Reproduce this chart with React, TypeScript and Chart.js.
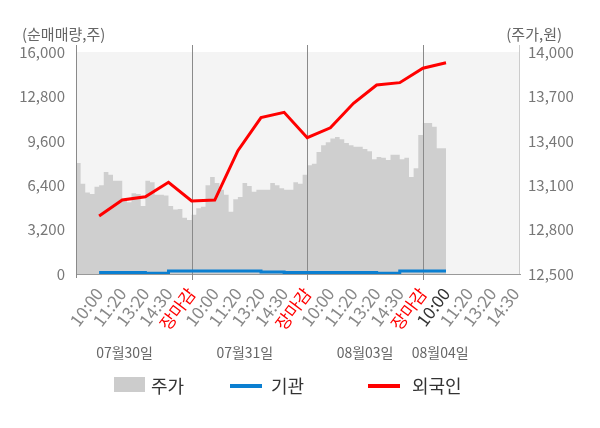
import { useEffect, useRef } from "react";
import { Chart, registerables } from "chart.js";
import type { Plugin } from "chart.js";

Chart.register(...registerables);

// x 축 라벨 (시간대)
const xLabels = [
  "10:00", "11:20", "13:20", "14:30", "장마감",
  "10:00", "11:20", "13:20", "14:30", "장마감",
  "10:00", "11:20", "13:20", "14:30", "장마감",
  "10:00", "11:20", "13:20", "14:30",
];
const dayDates = ["07월30일", "07월31일", "08월03일", "08월04일"];
const dayStarts = [-1, 4, 9, 14];

// 주가 (분 단위, 0.2칸 간격)
const day1Price = [
  13260, 13250, 13110, 13050, 13040, 13090, 13100, 13190, 13170, 13130,
  13130, 13000, 12985, 13045, 13040, 12960, 13130, 13120, 13035, 13035,
  13030, 12960, 12935, 12940, 12880,
];
const day2Price = [
  12865, 12900, 12945, 12955, 13100, 13155, 13115, 13070, 13035, 12920,
  13005, 13020, 13115, 13095, 13055, 13070, 13070, 13070, 13115, 13100,
  13080, 13070, 13070, 13120, 13110,
];
const day3Price = [
  13170, 13235, 13245, 13325, 13370, 13390, 13415, 13425, 13410, 13385,
  13370, 13360, 13360, 13345, 13330, 13275, 13290, 13285, 13270, 13305,
  13305, 13275, 13285, 13155, 13215,
];
const day4Price = [13440, 13520, 13520, 13495, 13350, 13350];

// 순매매량 (주)
const foreignNet = [
  4180, 5330, 5570, 6610, 5260, 5330, 8890, 11270, 11650, 9820, 10540,
  12300, 13620, 13790, 14830, 15230,
];
const institutionNet = [
  110, 110, 110, 50, 220, 220, 220, 220, 140, 110, 110, 110, 110, 50, 220,
  220,
];

const FONT = "'Noto Sans CJK KR', 'Noto Sans', sans-serif";

const decorPlugin: Plugin = {
  id: "decor",
  beforeDatasetsDraw(chart) {
    const { ctx, chartArea } = chart;
    ctx.save();
    ctx.fillStyle = "#f4f4f4";
    ctx.fillRect(
      chartArea.left,
      chartArea.top,
      chartArea.right - chartArea.left,
      chartArea.bottom - chartArea.top
    );
    ctx.restore();
  },
  afterDatasetDraw(chart, args) {
    if (args.index !== 2) return;
    const { ctx, chartArea } = chart;
    const xs = chart.scales.x;
    ctx.save();
    ctx.lineWidth = 1;
    ctx.strokeStyle = "#8a8a8a";
    [4, 9, 14].forEach((v) => {
      const px = Math.round(xs.getPixelForValue(v)) + 0.5;
      ctx.beginPath();
      ctx.moveTo(px, chartArea.top - 7);
      ctx.lineTo(px, chartArea.bottom + 6);
      ctx.stroke();
    });
    ctx.beginPath();
    ctx.moveTo(chartArea.left + 0.5, chartArea.top - 7);
    ctx.lineTo(chartArea.left + 0.5, chartArea.bottom + 4);
    ctx.stroke();
    ctx.strokeStyle = "#cccccc";
    ctx.beginPath();
    ctx.moveTo(chartArea.right - 0.5, chartArea.top - 7);
    ctx.lineTo(chartArea.right - 0.5, chartArea.bottom);
    ctx.stroke();
    ctx.restore();
  },
  afterDraw(chart) {
    const { ctx } = chart;
    const xs = chart.scales.x;
    ctx.save();
    ctx.fillStyle = "#666";
    ctx.font = `15px ${FONT}`;
    ctx.textBaseline = "middle";
    ctx.textAlign = "left";
    ctx.fillText("(순매매량,주)", 22, 34);
    ctx.textAlign = "right";
    ctx.fillText("(주가,원)", 562, 34);
    ctx.textAlign = "center";
    ctx.font = `14px ${FONT}`;
    const datePos = [1.1, 6.3, 11.5, 14.75];
    dayDates.forEach((d, i) => {
      ctx.fillText(d, xs.getPixelForValue(datePos[i]), 353);
    });
    ctx.restore();
  },
};

const buildPricePoints = () => {
  const days = [day1Price, day2Price, day3Price, day4Price];
  const pts: { x: number; y: number }[] = [];
  days.forEach((arr, d) => {
    arr.forEach((v, k) => pts.push({ x: dayStarts[d] + k * 0.2, y: v }));
  });
  return pts;
};

const App = () => {
  const canvasRef = useRef<HTMLCanvasElement>(null);

  useEffect(() => {
    document.body.style.margin = "0";
    if (!canvasRef.current) return;
    const chart = new Chart(canvasRef.current, {
      type: "line",
      data: {
        datasets: [
          {
            label: "외국인",
            data: foreignNet.map((v, i) => ({ x: i, y: v })),
            borderColor: "#ff0000",
            borderWidth: 3,
            pointRadius: 0,
            yAxisID: "yL",
            order: 1,
          },
          {
            label: "기관",
            data: institutionNet.map((v, i) => ({ x: i, y: v })),
            borderColor: "#0b7fd1",
            borderWidth: 3,
            pointRadius: 0,
            stepped: "after",
            yAxisID: "yL",
            order: 2,
          },
          {
            label: "주가",
            data: buildPricePoints(),
            borderWidth: 0,
            borderColor: "rgba(0,0,0,0)",
            backgroundColor: "#cfcfcf",
            fill: "start",
            pointRadius: 0,
            stepped: "after",
            yAxisID: "yR",
            order: 3,
          },
        ],
      },
      options: {
        responsive: false,
        animation: false,
        layout: { padding: { top: 52, left: 0, right: 0, bottom: 0 } },
        plugins: {
          legend: { display: false },
          tooltip: { enabled: false },
        },
        scales: {
          x: {
            type: "linear",
            min: -1,
            max: 18.2,
            grid: { display: false, drawTicks: false },
            border: { display: true, color: "#999" },
            afterBuildTicks: (scale) => {
              scale.ticks = xLabels.map((_, i) => ({ value: i }));
            },
            afterFit: (scale) => {
              scale.height = 154;
            },
            ticks: {
              autoSkip: false,
              minRotation: 53,
              maxRotation: 53,
              padding: 10,
              font: { family: FONT, size: 17 },
              color: (c) => {
                const l = xLabels[c.index];
                if (l === "장마감") return "#ff0000";
                if (c.index === 15) return "#333";
                return "#888";
              },
              callback: (_v, i) => xLabels[i],
            },
          },
          yL: {
            type: "linear",
            position: "left",
            min: 0,
            max: 16000,
            border: { display: false },
            grid: {
              drawTicks: false,
              color: (c) =>
                c.tick.value === 16000
                  ? "rgba(0,0,0,0)"
                  : c.tick.value === 0
                  ? "#aaa"
                  : "#dcdcdc",
            },
            afterFit: (scale) => {
              scale.width = 76;
            },
            ticks: {
              stepSize: 3200,
              padding: 11,
              color: "#777",
              font: { family: FONT, size: 15 },
              callback: (v) => Number(v).toLocaleString("en-US"),
            },
          },
          yR: {
            type: "linear",
            position: "right",
            min: 12500,
            max: 14000,
            border: { display: false },
            grid: { display: false, drawTicks: false },
            afterFit: (scale) => {
              scale.width = 80;
            },
            ticks: {
              stepSize: 300,
              padding: 8,
              color: "#777",
              font: { family: FONT, size: 15 },
              callback: (v) => Number(v).toLocaleString("en-US"),
            },
          },
        },
      },
      plugins: [decorPlugin],
    });
    return () => chart.destroy();
  }, []);

  const textStyle: React.CSSProperties = {
    position: "absolute",
    top: 373,
    height: 24,
    lineHeight: "24px",
    fontSize: 18,
    color: "#333",
    fontFamily: FONT,
  };

  return (
    <div style={{ position: "relative", width: 600, height: 428, background: "#fff" }}>
      <canvas ref={canvasRef} width={600} height={428} style={{ display: "block" }} />
      <div style={{ position: "absolute", left: 114, top: 377, width: 31, height: 15, background: "#cccccc" }} />
      <div style={{ ...textStyle, left: 151 }}>주가</div>
      <div style={{ position: "absolute", left: 230, top: 384, width: 32, height: 4, background: "#0b7fd1" }} />
      <div style={{ ...textStyle, left: 271 }}>기관</div>
      <div style={{ position: "absolute", left: 368, top: 384, width: 32, height: 4, background: "#ff0000" }} />
      <div style={{ ...textStyle, left: 412 }}>외국인</div>
    </div>
  );
};

export default App;
